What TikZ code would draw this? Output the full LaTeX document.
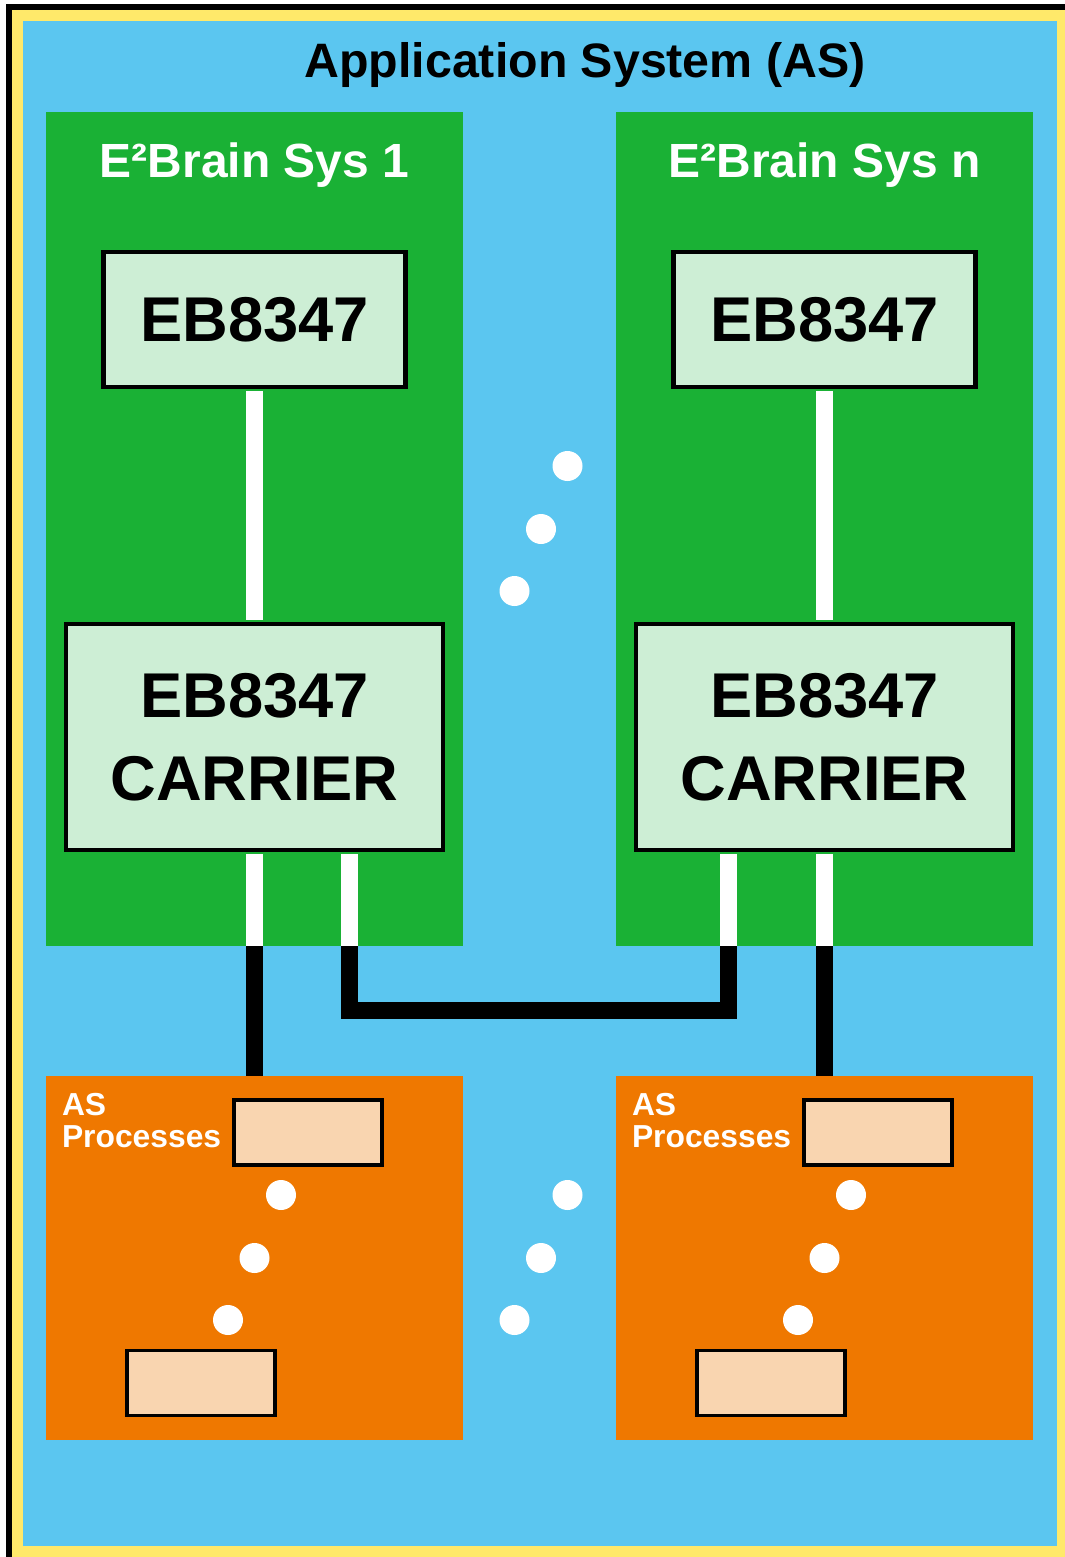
\documentclass[tikz,border=0pt]{standalone}
\usepackage{fontspec}
\setmainfont{Liberation Sans}
\definecolor{asblue}{HTML}{5BC6F0}
\definecolor{asyellow}{HTML}{FFE96A}
\definecolor{ebgreen}{HTML}{1AB135}
\definecolor{chipgreen}{HTML}{CDEED5}
\definecolor{procorange}{HTML}{EF7800}
\definecolor{taskpeach}{HTML}{F9D5B0}
\tikzset{
  sysbox/.style={fill=ebgreen, minimum width=8.34cm, minimum height=16.68cm, inner sep=0},
  systitle/.style={text=white, font=\fontsize{27.3}{30}\selectfont\bfseries, anchor=base},
  chipbox/.style={draw=black, line width=2.3pt, fill=chipgreen, align=center, inner sep=0,
    font=\fontsize{36}{47.2}\selectfont\bfseries},
  procarea/.style={fill=procorange, minimum width=8.34cm, minimum height=7.28cm, inner sep=0},
  proclabel/.style={text=white, align=left, inner sep=0, anchor=north west,
    font=\fontsize{18.1}{18.2}\selectfont\bfseries},
  taskbox/.style={draw=black, line width=2pt, fill=taskpeach, minimum width=2.96cm, minimum height=1.3cm},
  wire/.style={white, line width=0.34cm},
  cable/.style={black, line width=0.34cm}
}
\newcommand{\dotstep}[1]{%
  \foreach \dx/\dy in {0.53/1.26, 0/0, -0.53/-1.24}
    \fill[white] ([shift={(\dx,\dy)}]#1) circle (0.3cm);
}
\begin{document}
\begin{tikzpicture}
	\useasboundingbox (0,0) rectangle (21.3,-31.14);
	\fill[white] (0,0) rectangle (21.3,-31.14);

	% Application system frame
	\fill[black] (0.12,-0.08) rectangle (21.3,-31.14);
	\fill[asyellow] (0.24,-0.2) rectangle (21.3,-31.14);
	\fill[asblue] (0.46,-0.42) rectangle (21.14,-30.92);
	\node[font=\fontsize{27.5}{30}\selectfont\bfseries, anchor=base] (astitle) at (11.7,-1.54) {Application System (AS)};

	% E2Brain systems
	\node[sysbox] (sys1) at (5.09,-10.58) {};
	\node[sysbox] (sysn) at (16.49,-10.58) {};
	\node[systitle] (sys1title) at ([yshift=-1.32cm]sys1.north) {E²Brain Sys 1};
	\node[systitle] (sysntitle) at ([yshift=-1.32cm]sysn.north) {E²Brain Sys n};

	\node[chipbox, minimum width=6.04cm, minimum height=2.7cm] (eb1) at (5.09,-6.39) {EB8347};
	\node[chipbox, minimum width=6.04cm, minimum height=2.7cm] (ebn) at (16.49,-6.39) {EB8347};
	\node[chipbox, minimum width=7.54cm, minimum height=4.52cm] (car1) at (5.09,-14.74) {EB8347\\CARRIER};
	\node[chipbox, minimum width=7.54cm, minimum height=4.52cm] (carn) at (16.49,-14.74) {EB8347\\CARRIER};

	% AS process areas
	\node[procarea] (proc1) at (5.09,-25.16) {};
	\node[procarea] (procn) at (16.49,-25.16) {};
	\node[proclabel] (proc1label) at ([xshift=0.32cm,yshift=-0.355cm]proc1.north west) {AS\\Processes};
	\node[proclabel] (procnlabel) at ([xshift=0.32cm,yshift=-0.355cm]procn.north west) {AS\\Processes};
	\node[taskbox] (task1a) at ([xshift=1.07cm,yshift=2.51cm]proc1.center) {};
	\node[taskbox] (task1b) at ([xshift=-1.07cm,yshift=-2.5cm]proc1.center) {};
	\node[taskbox] (taskna) at ([xshift=1.07cm,yshift=2.51cm]procn.center) {};
	\node[taskbox] (tasknb) at ([xshift=-1.07cm,yshift=-2.5cm]procn.center) {};

	% Connections
	\draw[wire, shorten <=1.15pt, shorten >=1.15pt] (eb1.south) -- (car1.north);
	\draw[wire, shorten <=1.15pt, shorten >=1.15pt] (ebn.south) -- (carn.north);
	\draw[wire, shorten <=1.15pt] (car1.south) -- (car1.south |- sys1.south);
	\draw[wire, shorten <=1.15pt] (carn.south) -- (carn.south |- sysn.south);
	\draw[cable] (car1.south |- sys1.south) -- (proc1.north);
	\draw[cable] (carn.south |- sysn.south) -- (procn.north);

	\coordinate (link1) at ([xshift=1.9cm]car1.south);
	\coordinate (linkn) at ([xshift=-1.92cm]carn.south);
	\draw[wire, shorten <=1.15pt] (link1) -- (link1 |- sys1.south);
	\draw[wire, shorten <=1.15pt] (linkn) -- (linkn |- sysn.south);
	\draw[cable] (link1 |- sys1.south) -- ++(0,-1.29) -| (linkn |- sysn.south);

	% Ellipsis dots
	\coordinate (sysdots) at (10.82,-10.58);
	\coordinate (procdots) at (10.82,-25.16);
	\dotstep{sysdots}
	\dotstep{procdots}
	\dotstep{proc1.center}
	\dotstep{procn.center}
\end{tikzpicture}
\end{document}
